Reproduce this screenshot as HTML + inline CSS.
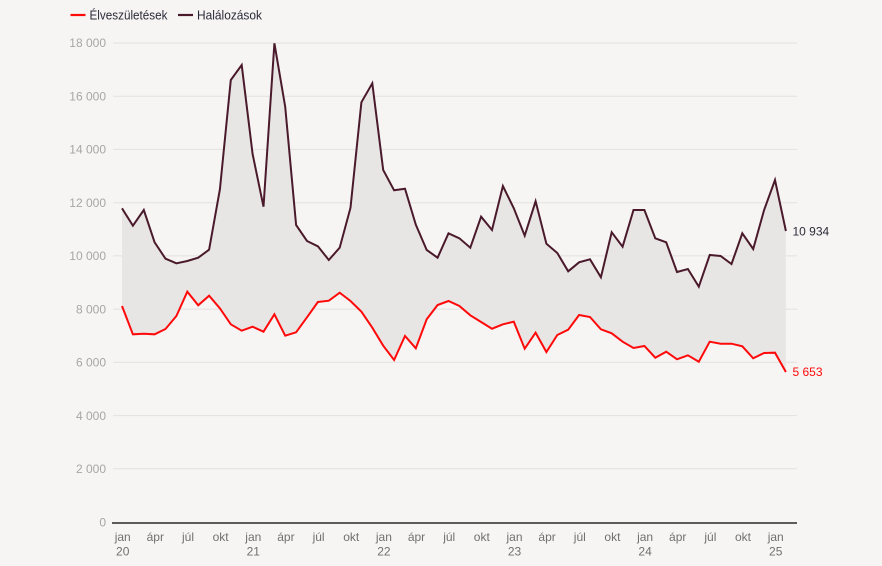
<!DOCTYPE html>
<html><head><meta charset="utf-8"><style>
html,body{margin:0;padding:0;background:#f6f5f4;}
svg{display:block;font-family:"Liberation Sans",sans-serif;}
</style></head><body>
<svg width="882" height="566" viewBox="0 0 882 566" xmlns="http://www.w3.org/2000/svg">
<rect width="882" height="566" fill="#f6f5f4"/>
<!-- legend -->
<line x1="70.5" y1="15" x2="85.5" y2="15" stroke="#ff0a0a" stroke-width="2.2"/>
<text x="89.5" y="19.5" font-size="12.5" fill="#2b2b38" textLength="78" lengthAdjust="spacingAndGlyphs">Élveszületések</text>
<line x1="178" y1="15" x2="193" y2="15" stroke="#4a1a2c" stroke-width="2.2"/>
<text x="197" y="19.5" font-size="12.5" fill="#2b2b38" textLength="65" lengthAdjust="spacingAndGlyphs">Halálozások</text>
<!-- gridlines -->
<g stroke="#e3e1df" stroke-width="1">
<line x1="113" y1="468.8" x2="797" y2="468.8"/>
<line x1="113" y1="415.6" x2="797" y2="415.6"/>
<line x1="113" y1="362.3" x2="797" y2="362.3"/>
<line x1="113" y1="309.1" x2="797" y2="309.1"/>
<line x1="113" y1="255.9" x2="797" y2="255.9"/>
<line x1="113" y1="202.7" x2="797" y2="202.7"/>
<line x1="113" y1="149.4" x2="797" y2="149.4"/>
<line x1="113" y1="96.2" x2="797" y2="96.2"/>
<line x1="113" y1="43" x2="797" y2="43"/>
</g>
<g font-size="12" fill="#a8a6a5" text-anchor="end">
<text x="106" y="526.5">0</text>
<text x="106" y="473">2 000</text>
<text x="106" y="420">4 000</text>
<text x="106" y="366.5">6 000</text>
<text x="106" y="313.5">8 000</text>
<text x="106" y="260">10 000</text>
<text x="106" y="207">12 000</text>
<text x="106" y="153.5">14 000</text>
<text x="106" y="100.5">16 000</text>
<text x="106" y="47">18 000</text>
</g>
<!-- fill between -->
<polygon fill="#e8e6e5" points="122,208.3 132.9,225.7 143.8,210 154.6,242.3 165.5,258.7 176.4,263.3 187.3,261 198.2,257.7 209.1,249.7 219.9,189.3 230.8,80 241.7,65 252.6,154 263.5,206.7 274.4,43.3 285.2,106.7 296.1,225 307,241 317.9,246.3 328.8,260 339.7,247.7 350.5,207.7 361.4,102.3 372.3,83.3 383.2,170 394.1,190.3 405,188.7 415.8,224.7 426.7,250 437.6,257.7 448.5,233.3 459.4,238.3 470.3,247.7 481.1,216.7 492,230 502.9,186 513.8,208.3 524.7,235.7 535.6,201.3 546.4,243.7 557.3,253 568.2,271.3 579.1,262.3 590,259.3 600.9,277.3 611.7,232.3 622.6,246.7 633.5,210 644.4,210 655.3,238.3 666.2,242.3 677,272 687.9,269 698.8,286.7 709.7,255 720.6,256 731.5,264 742.3,233.3 753.2,249 764.1,210 775,180 785.9,231 785.9,372 775,352.7 764.1,353 753.2,358.3 742.3,346.3 731.5,343.7 720.6,343.7 709.7,341.7 698.8,361.7 687.9,355.3 677,359.3 666.2,351.7 655.3,357.7 644.4,346 633.5,348 622.6,341.7 611.7,333.3 600.9,329.3 590,317 579.1,315 568.2,329.7 557.3,335 546.4,352 535.6,332.7 524.7,348.7 513.8,321.7 502.9,324.3 492,328.7 481.1,322 470.3,315.3 459.4,306 448.5,301 437.6,305 426.7,319.3 415.8,348.3 405,336 394.1,360 383.2,345.7 372.3,327.7 361.4,311.7 350.5,301 339.7,292.7 328.8,300.7 317.9,302 307,317.3 296.1,332.3 285.2,335.7 274.4,314.3 263.5,331.7 252.6,326.7 241.7,330.7 230.8,324.3 219.9,308.3 209.1,295.7 198.2,305.3 187.3,291.7 176.4,316 165.5,329 154.6,334.3 143.8,333.7 132.9,334.3 122,306"/>
<!-- deaths -->
<polyline fill="none" stroke="#4a1a2c" stroke-width="2" stroke-linejoin="miter" points="122,208.3 132.9,225.7 143.8,210 154.6,242.3 165.5,258.7 176.4,263.3 187.3,261 198.2,257.7 209.1,249.7 219.9,189.3 230.8,80 241.7,65 252.6,154 263.5,206.7 274.4,43.3 285.2,106.7 296.1,225 307,241 317.9,246.3 328.8,260 339.7,247.7 350.5,207.7 361.4,102.3 372.3,83.3 383.2,170 394.1,190.3 405,188.7 415.8,224.7 426.7,250 437.6,257.7 448.5,233.3 459.4,238.3 470.3,247.7 481.1,216.7 492,230 502.9,186 513.8,208.3 524.7,235.7 535.6,201.3 546.4,243.7 557.3,253 568.2,271.3 579.1,262.3 590,259.3 600.9,277.3 611.7,232.3 622.6,246.7 633.5,210 644.4,210 655.3,238.3 666.2,242.3 677,272 687.9,269 698.8,286.7 709.7,255 720.6,256 731.5,264 742.3,233.3 753.2,249 764.1,210 775,180 785.9,231"/>
<!-- births -->
<polyline fill="none" stroke="#ff0a0a" stroke-width="2" points="122,306 132.9,334.3 143.8,333.7 154.6,334.3 165.5,329 176.4,316 187.3,291.7 198.2,305.3 209.1,295.7 219.9,308.3 230.8,324.3 241.7,330.7 252.6,326.7 263.5,331.7 274.4,314.3 285.2,335.7 296.1,332.3 307,317.3 317.9,302 328.8,300.7 339.7,292.7 350.5,301 361.4,311.7 372.3,327.7 383.2,345.7 394.1,360 405,336 415.8,348.3 426.7,319.3 437.6,305 448.5,301 459.4,306 470.3,315.3 481.1,322 492,328.7 502.9,324.3 513.8,321.7 524.7,348.7 535.6,332.7 546.4,352 557.3,335 568.2,329.7 579.1,315 590,317 600.9,329.3 611.7,333.3 622.6,341.7 633.5,348 644.4,346 655.3,357.7 666.2,351.7 677,359.3 687.9,355.3 698.8,361.7 709.7,341.7 720.6,343.7 731.5,343.7 742.3,346.3 753.2,358.3 764.1,353 775,352.7 785.9,372"/>
<!-- end labels -->
<text x="792.5" y="235.5" font-size="12" fill="#2b2b38">10 934</text>
<text x="792.5" y="376" font-size="12" fill="#ff0a0a">5 653</text>
<!-- axis -->
<line x1="112" y1="523" x2="797" y2="523" stroke="#2a2a2a" stroke-width="1.5"/>
<g font-size="12" fill="#707070" text-anchor="middle">
<text x="122.7" y="541">jan</text><text x="122.7" y="555.5">20</text>
<text x="155.3" y="541">ápr</text>
<text x="188" y="541">júl</text>
<text x="220.6" y="541">okt</text>
<text x="253.3" y="541">jan</text><text x="253.3" y="555.5">21</text>
<text x="285.9" y="541">ápr</text>
<text x="318.6" y="541">júl</text>
<text x="351.2" y="541">okt</text>
<text x="383.9" y="541">jan</text><text x="383.9" y="555.5">22</text>
<text x="416.5" y="541">ápr</text>
<text x="449.2" y="541">júl</text>
<text x="481.8" y="541">okt</text>
<text x="514.5" y="541">jan</text><text x="514.5" y="555.5">23</text>
<text x="547.1" y="541">ápr</text>
<text x="579.8" y="541">júl</text>
<text x="612.4" y="541">okt</text>
<text x="645.1" y="541">jan</text><text x="645.1" y="555.5">24</text>
<text x="677.7" y="541">ápr</text>
<text x="710.4" y="541">júl</text>
<text x="743" y="541">okt</text>
<text x="775.7" y="541">jan</text><text x="775.7" y="555.5">25</text>
</g>
</svg>
</body></html>
